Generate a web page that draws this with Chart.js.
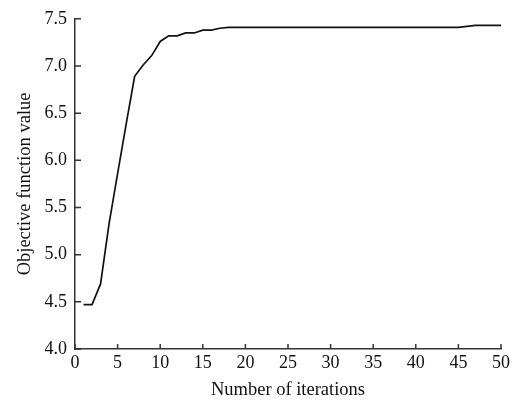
<!DOCTYPE html>
<html>
<head>
<meta charset="utf-8">
<script src="https://cdn.jsdelivr.net/npm/chart.js@4.4.1/dist/chart.umd.min.js"></script>
<style>
html,body{margin:0;padding:0;background:#fff;}
#wrap{width:515px;height:401px;}
</style>
</head>
<body>
<div id="wrap"><canvas id="c" width="515" height="401"></canvas></div>
<script>
const iterations = [1,2,3,4,5,6,7,8,9,10,11,12,13,14,15,16,17,18,19,20,21,22,23,24,25,26,27,28,29,30,31,32,33,34,35,36,37,38,39,40,41,42,43,44,45,46,47,48,49,50];
const objectiveValues = [4.47,4.47,4.69,5.33,5.86,6.38,6.89,7.01,7.11,7.26,7.32,7.32,7.35,7.35,7.38,7.38,7.40,7.41,7.41,7.41,7.41,7.41,7.41,7.41,7.41,7.41,7.41,7.41,7.41,7.41,7.41,7.41,7.41,7.41,7.41,7.41,7.41,7.41,7.41,7.41,7.41,7.41,7.41,7.41,7.41,7.42,7.43,7.43,7.43,7.43];
const xTicks = [0,5,10,15,20,25,30,35,40,45,50];
const yTicks = [4.0,4.5,5.0,5.5,6.0,6.5,7.0,7.5];

const FONT = "'Liberation Serif','Times New Roman',serif";
const AXIS_COLOR = '#333';

const innerTicks = {
  id: 'innerTicks',
  afterDraw(chart) {
    const ctx = chart.ctx;
    const xs = chart.scales.x, ys = chart.scales.y;
    const a = chart.chartArea;
    ctx.save();
    ctx.strokeStyle = AXIS_COLOR;
    ctx.lineWidth = 1.5;
    ctx.beginPath();
    xTicks.forEach(v => {
      const px = xs.getPixelForValue(v);
      ctx.moveTo(px, a.bottom);
      ctx.lineTo(px, a.bottom - 5);
    });
    yTicks.forEach(v => {
      const py = ys.getPixelForValue(v);
      ctx.moveTo(a.left, py);
      ctx.lineTo(a.left + 6, py);
    });
    ctx.stroke();
    ctx.restore();
  }
};

new Chart(document.getElementById('c'), {
  type: 'line',
  data: {
    datasets: [{
      data: iterations.map((x, i) => ({x: x, y: objectiveValues[i]})),
      borderColor: '#111',
      borderWidth: 1.7,
      pointRadius: 0,
      tension: 0,
      fill: false
    }]
  },
  options: {
    responsive: false,
    animation: false,
    layout: {padding: {left: 0, right: 14, top: 17, bottom: 0}},
    plugins: {legend: {display: false}, tooltip: {enabled: false}},
    scales: {
      x: {
        type: 'linear',
        min: 0, max: 50,
        afterBuildTicks(scale) { scale.ticks = xTicks.map(v => ({value: v})); },
        afterFit(scale) { scale.height = 52; },
        border: {display: true, color: AXIS_COLOR, width: 1.5},
        grid: {display: true, drawOnChartArea: false, drawTicks: false},
        ticks: {color: '#111', font: {family: FONT, size: 18}, padding: 3, maxRotation: 0, autoSkip: false},
        title: {display: true, text: 'Number of iterations', color: '#111', font: {family: FONT, size: 18.5}, padding: {top: 0, bottom: 0}}
      },
      y: {
        type: 'linear',
        min: 4.0, max: 7.5,
        afterBuildTicks(scale) { scale.ticks = yTicks.map(v => ({value: v})); },
        afterFit(scale) { scale.width = 75; },
        border: {display: true, color: AXIS_COLOR, width: 1.5},
        grid: {display: true, drawOnChartArea: false, drawTicks: false},
        ticks: {color: '#111', font: {family: FONT, size: 18}, padding: 8, callback: v => v.toFixed(1)},
        title: {display: true, text: 'Objective function value', color: '#111', font: {family: FONT, size: 18.5}, padding: {top: 14, bottom: 0}}
      }
    }
  },
  plugins: [innerTicks]
});
</script>
</body>
</html>
